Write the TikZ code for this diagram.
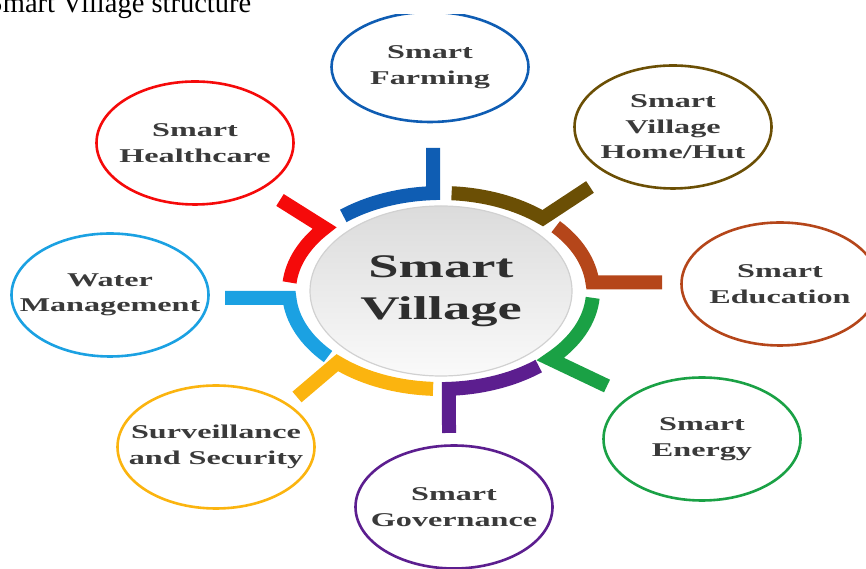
\documentclass[tikz,border=0pt]{standalone}
\usepackage{fontspec}
\usepackage{tikz}
\usepackage{xcolor}
\usetikzlibrary{shapes.geometric}
\setmainfont{Liberation Serif}
\newfontfamily\widefont[FakeStretch=1.65]{Liberation Serif}

\definecolor{farmblue}{HTML}{0F5DB3}
\definecolor{hutbrown}{HTML}{6B4F05}
\definecolor{edurust}{HTML}{B5461A}
\definecolor{energygreen}{HTML}{1AA145}
\definecolor{govpurple}{HTML}{5C1E8F}
\definecolor{secyellow}{HTML}{FBB40F}
\definecolor{waterblue}{HTML}{1BA1E2}
\definecolor{healthred}{HTML}{F50A0A}
\definecolor{labelgray}{HTML}{3A3A3A}

\tikzstyle{topic} = [ellipse, minimum width=197pt, minimum height=123pt, line width=2.6pt, fill=white, inner xsep=-30pt, inner ysep=0pt, align=center, text=labelgray, font={\widefont\bfseries\fontsize{19.5}{25.5}\selectfont}]
\tikzstyle{hub} = [ellipse, minimum width=262pt, minimum height=170pt, draw=black!18, line width=1.2pt, top color=black!14, bottom color=black!2, align=center, text=black!82, font={\widefont\bfseries\fontsize{33}{42}\selectfont}]
\tikzstyle{band} = [line width=14pt, line join=miter]

\begin{document}
\begin{tikzpicture}[x=1pt, y=1pt]
\useasboundingbox (0,0) rectangle (866,569);
\node (caption) [anchor=base west, font=\fontsize{28.5}{30}\selectfont] at (-16.5,556) {Smart Village structure};
\begin{scope}
\clip (0,0) rectangle (866,554);
\node (village) [hub] at (441,278) {Smart\\Village};
% free ends of the stubs
\coordinate (farmingend) at (433,421);
\coordinate (hutend) at (590,382);
\coordinate (educationend) at (662,286.5);
\coordinate (energyend) at (607,183);
\coordinate (governanceend) at (449,136);
\coordinate (securityend) at (297,172);
\coordinate (waterend) at (225,271.2);
\coordinate (healthend) at (280,369);
% ring pieces, each ending in its stub
\draw [band, farmblue] (village.center) ++(130:152 and 98) arc [start angle=130, end angle=93, x radius=152pt, y radius=98pt] -- (farmingend);
\draw [band, hutbrown] (village.center) ++(86:152 and 98) arc [start angle=86, end angle=48, x radius=152pt, y radius=98pt] -- (hutend);
\draw [band, edurust] (village.center) ++(41:152 and 98) arc [start angle=41, end angle=5, x radius=152pt, y radius=98pt] -- (educationend);
\draw [band, energygreen] (village.center) ++(-4:152 and 98) arc [start angle=-4, end angle=-44, x radius=152pt, y radius=98pt] -- (energyend);
\draw [band, govpurple] (village.center) ++(-50:152 and 98) arc [start angle=-50, end angle=-87, x radius=152pt, y radius=98pt] -- (governanceend);
\draw [band, secyellow] (village.center) ++(-93:152 and 98) arc [start angle=-93, end angle=-133, x radius=152pt, y radius=98pt] -- (securityend);
\draw [band, waterblue] (village.center) ++(-138:152 and 98) arc [start angle=-138, end angle=-176, x radius=152pt, y radius=98pt] -- (waterend);
\draw [band, healthred] (village.center) ++(175:152 and 98) arc [start angle=175, end angle=140, x radius=152pt, y radius=98pt] -- (healthend);
% the eight topics
\node (farming) [topic, draw=farmblue, minimum height=110pt] at (430,502) {Smart\\Farming};
\node (hut) [topic, draw=hutbrown] at (673,442) {Smart\\Village\\Home/Hut};
\node (education) [topic, draw=edurust] at (780,285) {Smart\\Education};
\node (energy) [topic, draw=energygreen] at (702,130) {Smart\\Energy};
\node (governance) [topic, draw=govpurple] at (454,62) {Smart\\Governance};
\node (security) [topic, draw=secyellow] at (216,122) {Surveillance\\and Security};
\node (water) [topic, draw=waterblue] at (110,274) {Water\\Management};
\node (health) [topic, draw=healthred] at (195,426) {Smart\\Healthcare};
\end{scope}
\end{tikzpicture}
\end{document}
